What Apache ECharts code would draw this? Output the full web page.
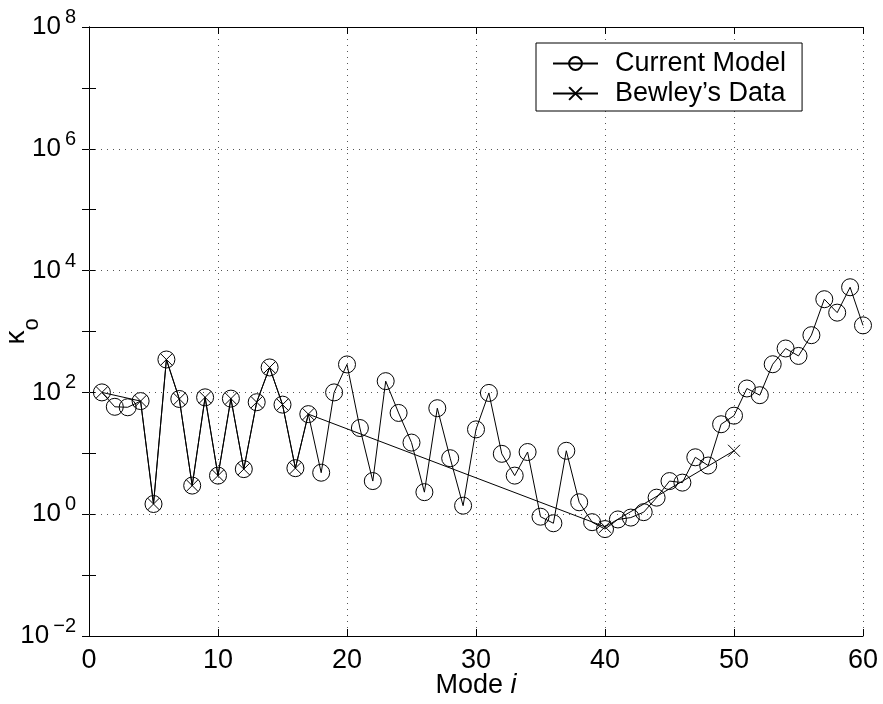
<!DOCTYPE html>
<html><head><meta charset="utf-8">
<script src="https://cdn.jsdelivr.net/npm/echarts@6/dist/echarts.min.js"></script>
<style>html,body{margin:0;padding:0;background:#fff}#c{width:883px;height:704px}</style>
</head><body><div id="c"></div>
<script>
const modes = [1,2,3,4,5,6,7,8,9,10,11,12,13,14,15,16,17,18,19,20,21,22,23,24,25,26,27,28,29,30,31,32,33,34,35,36,37,38,39,40,41,42,43,44,45,46,47,48,49,50,51,52,53,54,55,56,57,58,59,60];
const currentModel = [100,58,57,72,1.47,347,78,2.95,83,4.3,
                      79,5.5,69,257,63,5.7,44,4.8,100,288,
                      26,3.5,153,46,15,2.3,55,8.3,1.38,24.7,
                      98,9.8,4.3,10.5,0.91,0.71,11,1.57,0.74,0.57,
                      0.82,0.88,1.08,1.87,3.5,3.3,8.6,6.3,30,41.5,
                      116,90,290,526,397,870,3390,2040,5330,1260];
const bewleyModes = [1,4,5,6,7,8,9,10,11,12,13,14,15,16,17,40,50];
const bewleyData = [100,72,1.47,347,78,2.95,83,4.3,79,5.5,69,257,63,5.7,44,0.62,11];
const xTicks = [0,10,20,30,40,50,60];
const yLabelExponents = [-2,0,2,4,6,8];
const gridExponents = [0,2,4,6];

const FONT = 'Liberation Sans, Arial, Helvetica, sans-serif';
const chart = echarts.init(document.getElementById('c'));

function yFmt(v){
  const e = Math.round(Math.log10(v));
  if (yLabelExponents.indexOf(e) < 0) return '';
  const s = e < 0 ? '\u2212' + (-e) : String(e);
  return '{b|10}{s|' + s + '}';
}
const yRich = {
  b:{fontSize:26,fontFamily:FONT,color:'#000',lineHeight:39,verticalAlign:'middle'},
  s:{fontSize:20,fontFamily:FONT,color:'#000',verticalAlign:'top',padding:[0,0,0,4]}
};
const logAxisBase = {
  type:'log', logBase:10, min:0.01, max:1e8, interval:1
};

chart.setOption({
  animation:false,
  backgroundColor:'#fff',
  grid:{left:89,right:20,top:27,bottom:68,containLabel:false,outerBoundsMode:'none'},
  legend:{
    orient:'vertical', left:536, top:43,
    padding:[7,16,4,16], itemGap:3, itemWidth:45, itemHeight:16,
    borderColor:'#000', borderWidth:1, backgroundColor:'#fff',
    textStyle:{fontSize:27,fontFamily:FONT,color:'#000',padding:[0,0,0,12]},
    data:['Current Model','Bewley\u2019s Data'],
    selectedMode:false
  },
  xAxis:[{
    type:'value', min:xTicks[0], max:xTicks[xTicks.length-1], interval:10,
    name:'{n|Mode }{i|i}', nameLocation:'middle', nameGap:36, nameMoveOverlap:false,
    nameTextStyle:{rich:{n:{fontSize:27,fontFamily:FONT,color:'#000'},i:{fontSize:27,fontFamily:FONT,fontStyle:'italic',color:'#000'}}},
    axisLine:{show:true,lineStyle:{color:'#000',width:1}},
    axisTick:{show:true,inside:true,length:7,lineStyle:{color:'#000'}},
    axisLabel:{fontSize:27,fontFamily:FONT,color:'#000',margin:11},
    splitLine:{show:true,lineStyle:{color:'#555',type:[1,5],width:1}}
  },{
    type:'value', position:'top', min:xTicks[0], max:xTicks[xTicks.length-1], interval:10,
    axisLine:{show:true,lineStyle:{color:'#000',width:1}},
    axisTick:{show:true,inside:true,length:7,lineStyle:{color:'#000'}},
    axisLabel:{show:false}, splitLine:{show:false}
  }],
  yAxis:[Object.assign({},logAxisBase,{
    position:'left',
    name:'{k|\u03ba}{o|o}', nameLocation:'middle', nameGap:46, nameRotate:90, nameMoveOverlap:false,
    nameTextStyle:{rich:{
      k:{fontSize:28,fontFamily:FONT,color:'#000',lineHeight:54,verticalAlign:'middle'},
      o:{fontSize:22,fontFamily:FONT,color:'#000',lineHeight:22,verticalAlign:'bottom'}
    }},
    axisLine:{show:true,lineStyle:{color:'#000',width:1}},
    axisTick:{show:true,inside:true,length:7,lineStyle:{color:'#000'}},
    axisLabel:{formatter:yFmt,margin:13,rich:yRich},
    splitLine:{show:false}, minorTick:{show:false}
  }),Object.assign({},logAxisBase,{
    position:'right',
    axisLine:{show:true,lineStyle:{color:'#000',width:1}},
    axisTick:{show:true,inside:true,length:7,lineStyle:{color:'#000'}},
    axisLabel:{show:false}, splitLine:{show:false}
  })],
  series:[{
    name:'Current Model', type:'line', xAxisIndex:0, yAxisIndex:0,
    data: modes.map((m,i)=>[m,currentModel[i]]),
    symbol:'circle', symbolSize:17, showAllSymbol:true,
    lineStyle:{color:'#000',width:1},
    itemStyle:{color:'rgba(0,0,0,0)',borderColor:'#000',borderWidth:1},
    emphasis:{disabled:true}, z:3,
    markLine:{
      silent:true, symbol:['none','none'], label:{show:false},
      lineStyle:{color:'#555',type:[1,5],width:1}, emphasis:{disabled:true},
      data: gridExponents.map(e=>({yAxis:Math.pow(10,e)}))
    }
  },{
    name:'Bewley\u2019s Data', type:'line', xAxisIndex:0, yAxisIndex:0,
    data: bewleyModes.map((m,i)=>[m,bewleyData[i]]),
    symbol:'path://M0,0L10,10M10,0L0,10', symbolSize:12, showAllSymbol:true,
    lineStyle:{color:'#000',width:1},
    itemStyle:{color:'rgba(0,0,0,0)',borderColor:'#000',borderWidth:1},
    emphasis:{disabled:true}, z:4
  }]
});
</script></body></html>
